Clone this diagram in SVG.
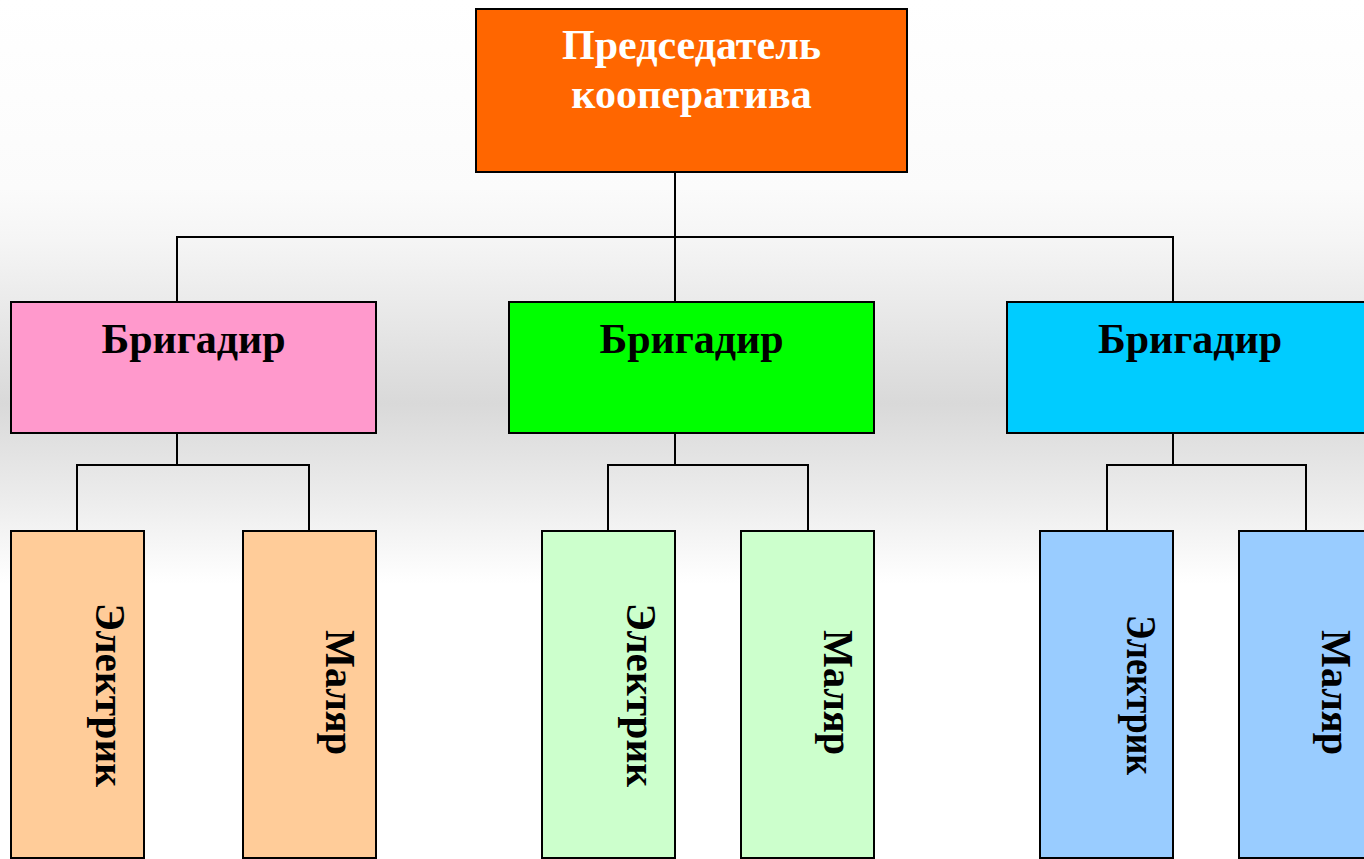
<svg xmlns="http://www.w3.org/2000/svg" width="1364" height="859" viewBox="0 0 1364 859">
  <defs>
    <linearGradient id="bg" gradientUnits="userSpaceOnUse" x1="0" y1="0" x2="0" y2="859">
      <stop offset="0" stop-color="#ffffff"/>
      <stop offset="0.055" stop-color="#fefefe"/>
      <stop offset="0.22" stop-color="#fbfbfb"/>
      <stop offset="0.28" stop-color="#f5f5f5"/>
      <stop offset="0.47" stop-color="#d9d9d9"/>
      <stop offset="0.58" stop-color="#ececec"/>
      <stop offset="0.68" stop-color="#ffffff"/>
      <stop offset="1" stop-color="#ffffff"/>
    </linearGradient>
    <style>
      .box { stroke: #000; stroke-width: 2; }
      .conn { fill: none; stroke: #000; stroke-width: 2; }
      .t { font-family: "Liberation Serif", "Times New Roman", serif; font-weight: bold; font-size: 42px; text-anchor: middle; fill: #000; }
      .w { fill: #fff; }
      .v { font-family: "Liberation Serif", "Times New Roman", serif; font-weight: bold; font-size: 43px; text-anchor: middle; fill: #000; }
    </style>
  </defs>
  <rect x="0" y="0" width="1364" height="859" fill="url(#bg)"/>

  <g id="connectors">
    <path class="conn" d="M675 172 V302 M177 302 V237 H1173 V302"/>
    <path class="conn" d="M177 433 V465 M77 531 V465 H309 V531"/>
    <path class="conn" d="M675 433 V465 M608 531 V465 H808 V531"/>
    <path class="conn" d="M1173 433 V465 M1107 531 V465 H1306 V531"/>
  </g>

  <g id="chairman">
    <rect class="box" x="476" y="9" width="431" height="163" fill="#ff6600"/>
    <text class="t w" x="691.5" y="59">Председатель</text>
    <text class="t w" x="691.5" y="108">кооператива</text>
  </g>

  <g id="brigadier1">
    <rect class="box" x="11" y="302" width="365" height="131" fill="#ff99cc"/>
    <text class="t" x="193.5" y="353">Бригадир</text>
  </g>
  <g id="brigadier2">
    <rect class="box" x="509" y="302" width="365" height="131" fill="#00ff00"/>
    <text class="t" x="691.5" y="353">Бригадир</text>
  </g>
  <g id="brigadier3">
    <rect class="box" x="1007" y="302" width="366" height="131" fill="#00ccff"/>
    <text class="t" x="1190" y="353">Бригадир</text>
  </g>

  <g id="electric1">
    <rect class="box" x="11" y="531" width="133" height="327" fill="#ffcc99"/>
    <text class="v" transform="translate(96 695) rotate(90)" textLength="184" lengthAdjust="spacingAndGlyphs">Электрик</text>
  </g>
  <g id="painter1">
    <rect class="box" x="243" y="531" width="133" height="327" fill="#ffcc99"/>
    <text class="v" transform="translate(326 692.5) rotate(90)" textLength="125" lengthAdjust="spacingAndGlyphs">Маляр</text>
  </g>
  <g id="electric2">
    <rect class="box" x="542" y="531" width="133" height="327" fill="#ccffcc"/>
    <text class="v" transform="translate(627 695) rotate(90)" textLength="184" lengthAdjust="spacingAndGlyphs">Электрик</text>
  </g>
  <g id="painter2">
    <rect class="box" x="741" y="531" width="133" height="327" fill="#ccffcc"/>
    <text class="v" transform="translate(824 692.5) rotate(90)" textLength="125" lengthAdjust="spacingAndGlyphs">Маляр</text>
  </g>
  <g id="electric3">
    <rect class="box" x="1040" y="531" width="133" height="327" fill="#99ccff"/>
    <text class="v" transform="translate(1127 695) rotate(90)" textLength="160" lengthAdjust="spacingAndGlyphs">Электрик</text>
  </g>
  <g id="painter3">
    <rect class="box" x="1239" y="531" width="134" height="327" fill="#99ccff"/>
    <text class="v" transform="translate(1322 692.5) rotate(90)" textLength="125" lengthAdjust="spacingAndGlyphs">Маляр</text>
  </g>
</svg>
